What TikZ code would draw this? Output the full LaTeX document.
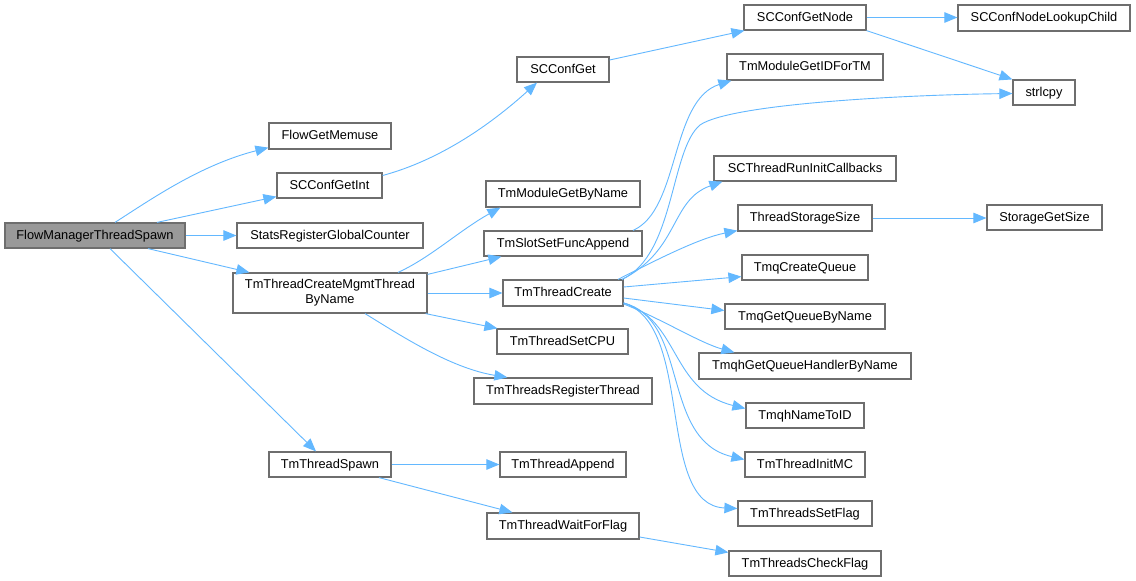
\documentclass[tikz,border=0pt]{standalone}
\usepackage{fontspec}
\setmainfont{Liberation Sans}
\usetikzlibrary{arrows.meta}
\definecolor{edgeblue}{HTML}{63B8FF}
\definecolor{boxline}{HTML}{6E6E6E}
\definecolor{mainfill}{HTML}{999999}
\tikzset{
  anybox/.style={draw=boxline, line width=1.2pt, fill=white, inner sep=0pt, align=center,
    font=\fontsize{12.8}{15}\selectfont, text=black},
  box/.style={anybox, text height=10.2pt, text depth=2.6pt},
  mainbox/.style={box, fill=mainfill},
  edge/.style={draw=edgeblue, line width=0.9pt, -{Triangle[length=13pt,width=10.5pt]}}
}
\begin{document}
\begin{tikzpicture}[x=1pt,y=-1pt]
\useasboundingbox[fill=white] (0,0) rectangle (1136,581);
% nodes
\node[mainbox, minimum width=180pt, minimum height=25pt] (fmts) at (95,235.5) {FlowManagerThreadSpawn};
\node[box, minimum width=122pt, minimum height=26pt] (fgm) at (330,136) {FlowGetMemuse};
\node[box, minimum width=105pt, minimum height=25pt] (scgi) at (329.5,185.5) {SCConfGetInt};
\node[box, minimum width=186pt, minimum height=25pt] (srgc) at (330,235.5) {StatsRegisterGlobalCounter};
\node[anybox, minimum width=194pt, minimum height=40pt] (tcm) at (330,293) {TmThreadCreateMgmtThread\\ByName};
\node[box, minimum width=122pt, minimum height=25pt] (tsp) at (330,464.5) {TmThreadSpawn};
\node[box, minimum width=92pt, minimum height=25pt] (scg) at (563,69.5) {SCConfGet};
\node[box, minimum width=154pt, minimum height=26pt] (tmgbn) at (563,194) {TmModuleGetByName};
\node[box, minimum width=158pt, minimum height=25pt] (tsfa) at (563,243.5) {TmSlotSetFuncAppend};
\node[box, minimum width=120pt, minimum height=26pt] (tc) at (563,293) {TmThreadCreate};
\node[box, minimum width=131pt, minimum height=25pt] (tsc) at (562.5,341.5) {TmThreadSetCPU};
\node[box, minimum width=178pt, minimum height=26pt] (ttrt) at (563,391) {TmThreadsRegisterThread};
\node[box, minimum width=126pt, minimum height=25pt] (tap) at (563,464.5) {TmThreadAppend};
\node[box, minimum width=152pt, minimum height=26pt] (twf) at (563,526) {TmThreadWaitForFlag};
\node[box, minimum width=122pt, minimum height=25pt] (scgn) at (805,17.5) {SCConfGetNode};
\node[box, minimum width=156pt, minimum height=26pt] (tmgid) at (805,67) {TmModuleGetIDForTM};
\node[box, minimum width=182pt, minimum height=25pt] (sctric) at (805,168.5) {SCThreadRunInitCallbacks};
\node[box, minimum width=134pt, minimum height=26pt] (tss) at (805,218) {ThreadStorageSize};
\node[box, minimum width=126pt, minimum height=25pt] (tmqcq) at (805,267.5) {TmqCreateQueue};
\node[box, minimum width=160pt, minimum height=25pt] (tmqgqbn) at (805,316.5) {TmqGetQueueByName};
\node[box, minimum width=212pt, minimum height=26pt] (tmqhg) at (805,366) {TmqhGetQueueHandlerByName};
\node[box, minimum width=118pt, minimum height=25pt] (tmqhnid) at (805,415.5) {TmqhNameToID};
\node[box, minimum width=120pt, minimum height=25pt] (tinit) at (805,464.5) {TmThreadInitMC};
\node[box, minimum width=134pt, minimum height=25pt] (tsf) at (805,513.5) {TmThreadsSetFlag};
\node[box, minimum width=152pt, minimum height=25pt] (tcf) at (805,563.5) {TmThreadsCheckFlag};
\node[box, minimum width=172pt, minimum height=26pt] (scnlc) at (1044,18) {SCConfNodeLookupChild};
\node[box, minimum width=62pt, minimum height=25pt] (strlcpy) at (1044,92.5) {strlcpy};
\node[box, minimum width=115pt, minimum height=25pt] (sgs) at (1044.5,217.5) {StorageGetSize};
\coordinate (bend) at (700,125);
% edges
\draw[edge] ([xshift=20pt]fmts.north) .. controls (150,200) and (200,165) .. ([yshift=2pt]fgm.south west);
\draw[edge] ([xshift=62pt]fmts.north) -- ([yshift=2pt]scgi.south west);
\draw[edge] (fmts.east) -- (srgc.west);
\draw[edge] ([xshift=53pt]fmts.south) -- ([xshift=17pt]tcm.north west);
\draw[edge] ([xshift=15pt]fmts.south) -- ([xshift=-14pt]tsp.north);
\draw[edge] ([yshift=10pt]scgi.east) .. controls (440,160) and (490,125) .. ([xshift=-26pt]scg.south);
\draw[edge] ([yshift=9.5pt]scg.east) -- ([xshift=1pt]scgn.south west);
\draw[edge] (scgn.east) -- (scnlc.west |- scgn.east);
\draw[edge] (scgn.south east) -- (strlcpy.north west);
\draw[edge] ([xshift=68pt]tcm.north) .. controls (430,258) and (460,230) .. ([xshift=15pt]tmgbn.south west);
\draw[edge] ([yshift=-2pt]tcm.north east) -- ([xshift=18pt]tsfa.south west);
\draw[edge] (tcm.east) -- (tc.west);
\draw[edge] ([xshift=-2pt]tcm.south east) -- ([xshift=1pt]tsc.north west);
\draw[edge] ([xshift=35pt]tcm.south) .. controls (400,335) and (450,368) .. ([xshift=34pt]ttrt.north west);
\draw[edge] ([xshift=70pt]tsfa.north) .. controls (680,210) and (670,100) .. ([xshift=5pt]tmgid.south west);
\draw[edge] ([xshift=59pt]tc.north) .. controls (675,255) and (670,150) .. (bend) .. controls (730,104) and (900,95) .. ([yshift=-1pt]strlcpy.west);
\draw[edge] ([xshift=59pt]tc.north) .. controls (680,250) and (670,200) .. ([xshift=9pt]sctric.south west);
\draw[edge] ([xshift=55pt]tc.north) .. controls (660,258) and (700,238) .. ([yshift=1pt]tss.south west);
\draw[edge] ([yshift=6pt]tc.east) -- ([yshift=4pt]tmqcq.south west);
\draw[edge] ([yshift=-5pt]tc.east) -- ([yshift=6pt]tmqgqbn.west);
\draw[edge] ([yshift=-11pt]tc.east) .. controls (660,318) and (700,343) .. ([xshift=36pt]tmqhg.north west);
\draw[edge] ([yshift=-10pt]tc.east) .. controls (680,320) and (670,390) .. ([yshift=7pt]tmqhnid.west);
\draw[edge] ([yshift=-10pt]tc.east) .. controls (690,320) and (660,440) .. ([yshift=5pt]tinit.west);
\draw[edge] ([yshift=-10pt]tc.east) .. controls (695,325) and (655,505) .. ([yshift=5pt]tsf.west);
\draw[edge] (tss.east) -- (sgs.west |- tss.east);
\draw[edge] (tsp.east) -- (tap.west);
\draw[edge] ([xshift=49pt]tsp.south) -- ([xshift=26pt]twf.north west);
\draw[edge] ([yshift=-11pt]twf.east) -- ([yshift=-2pt]tcf.north west);
\end{tikzpicture}
\end{document}
